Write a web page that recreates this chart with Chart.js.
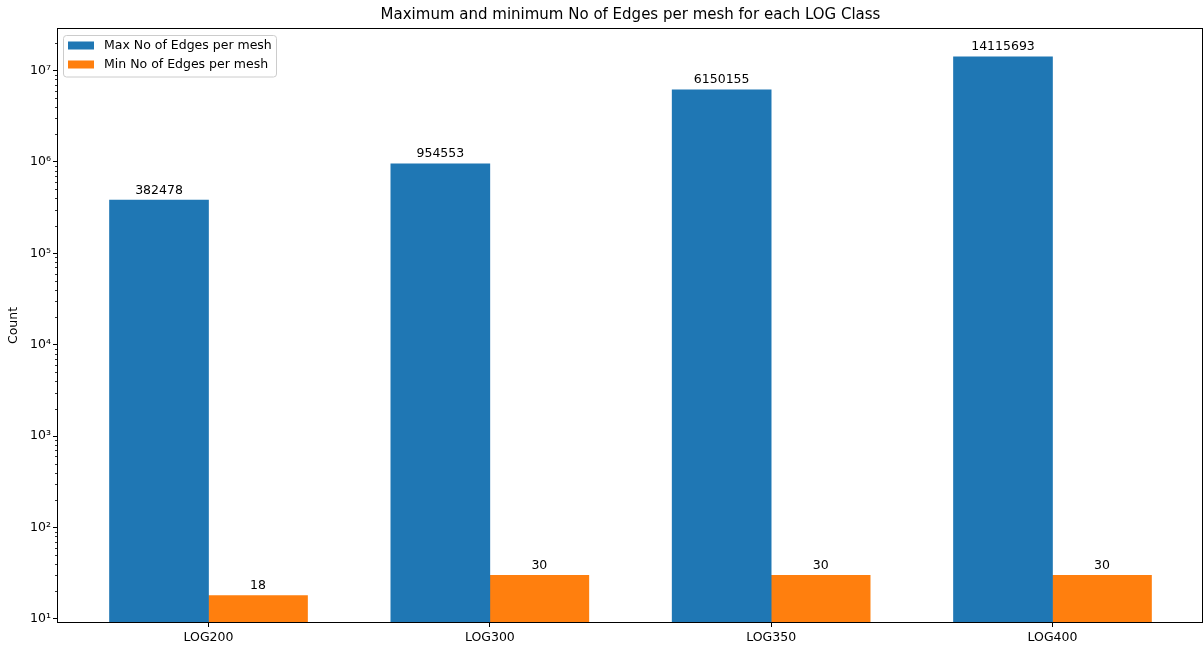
<!DOCTYPE html>
<html>
<head>
<meta charset="utf-8">
<title>Max and min No of Edges per mesh</title>
<script src="https://cdn.jsdelivr.net/npm/chart.js@4.4.1/dist/chart.umd.min.js"></script>
<style>
  html, body { margin: 0; padding: 0; background: #fff; }
  #wrap { width: 1204px; height: 645px; }
</style>
</head>
<body>
<div id="wrap"><canvas id="chart" width="1204" height="645"></canvas></div>
<script>
// data
const categories = ['LOG200', 'LOG300', 'LOG350', 'LOG400'];
const maxEdges = [382478, 954553, 6150155, 14115693];
const minEdges = [18, 30, 30, 30];
const seriesNames = ['Max No of Edges per mesh', 'Min No of Edges per mesh'];
const yTickValues = [1e1, 1e2, 1e3, 1e4, 1e5, 1e6, 1e7];
const yTickLabels = ['10¹', '10²', '10³', '10⁴', '10⁵', '10⁶', '10⁷'];

const blue = '#1f77b4';
const orange = '#ff7f0e';
const FONT = 'DejaVu Sans';

Chart.defaults.font.family = FONT;
Chart.defaults.font.size = 12.5;
Chart.defaults.color = '#000';

// frame, minor log ticks, bar labels and legend box (matplotlib look)
const decorations = {
    id: 'decorations',
    afterDatasetsDraw(chart) {
        const ctx = chart.ctx;
        const area = chart.chartArea;
        const y = chart.scales.y;

        ctx.save();
        // value labels above bars
        ctx.font = '12.5px ' + FONT;
        ctx.fillStyle = '#000';
        ctx.textAlign = 'center';
        ctx.textBaseline = 'alphabetic';
        chart.data.datasets.forEach((ds, di) => {
            const meta = chart.getDatasetMeta(di);
            meta.data.forEach((el, i) => {
                ctx.fillText(String(ds.data[i].y), el.x, el.y - 6.5);
            });
        });

        // minor ticks on log axis
        ctx.strokeStyle = '#000';
        ctx.lineWidth = 0.8;
        ctx.beginPath();
        for (let n = 0; n <= 8; n++) {
            for (let k = 2; k <= 9; k++) {
                const v = k * Math.pow(10, n);
                if (v < y.min || v > y.max) continue;
                const py = Math.round(y.getPixelForValue(v)) + 0.5;
                ctx.moveTo(area.left - 3, py);
                ctx.lineTo(area.left, py);
            }
        }
        ctx.stroke();

        // axes frame
        ctx.lineWidth = 1;
        ctx.strokeRect(Math.round(area.left) - 0.5, Math.round(area.top) - 0.5,
            Math.round(area.right - area.left), Math.round(area.bottom - area.top) + 1);

        // legend
        const lx = 63.5, ly = 35.5, lw = 213, lh = 41.5;
        ctx.beginPath();
        ctx.roundRect(lx, ly, lw, lh, 3);
        ctx.fillStyle = 'rgba(255,255,255,0.8)';
        ctx.fill();
        ctx.strokeStyle = '#cccccc';
        ctx.lineWidth = 1;
        ctx.stroke();

        const colors = [blue, orange];
        const rows = [41.5, 60.5];
        ctx.textAlign = 'left';
        ctx.textBaseline = 'middle';
        seriesNames.forEach((name, i) => {
            ctx.fillStyle = colors[i];
            ctx.fillRect(68, rows[i], 26, 8);
            ctx.fillStyle = '#000';
            ctx.fillText(name, 104, rows[i] + 4.5);
        });
        ctx.restore();
    }
};

new Chart(document.getElementById('chart'), {
    type: 'bar',
    data: {
        datasets: [
            {
                label: seriesNames[0],
                data: maxEdges.map((v, i) => ({ x: i, y: v })),
                backgroundColor: blue,
                barThickness: 99,
                borderWidth: 0
            },
            {
                label: seriesNames[1],
                data: minEdges.map((v, i) => ({ x: i, y: v })),
                backgroundColor: orange,
                barThickness: 99,
                borderWidth: 0
            }
        ]
    },
    options: {
        responsive: false,
        animation: false,
        layout: { padding: { left: 0, right: 1, top: 0, bottom: 0 } },
        plugins: {
            legend: { display: false },
            tooltip: { enabled: false },
            title: {
                display: true,
                fullSize: false,
                text: 'Maximum and minimum No of Edges per mesh for each LOG Class',
                font: { size: 15, weight: 'normal' },
                color: '#000',
                padding: { top: 6, bottom: 5 }
            }
        },
        scales: {
            x: {
                type: 'linear',
                min: -0.535,
                max: 3.535,
                offset: false,
                afterBuildTicks: s => { s.ticks = categories.map((c, i) => ({ value: i })); },
                afterFit: s => { s.height = 23; },
                ticks: {
                    autoSkip: false,
                    maxRotation: 0,
                    padding: 3,
                    callback: v => categories[v]
                },
                grid: {
                    offset: false,
                    drawOnChartArea: false,
                    drawTicks: true,
                    tickLength: 5,
                    tickColor: '#000',
                    tickWidth: 1
                },
                border: { display: false }
            },
            y: {
                type: 'logarithmic',
                min: 9.27,
                max: 2.84e7,
                afterBuildTicks: s => { s.ticks = yTickValues.map(v => ({ value: v })); },
                afterFit: s => { s.width = 58; },
                ticks: {
                    autoSkip: false,
                    padding: 2,
                    callback: v => {
                        const i = yTickValues.indexOf(v);
                        return i >= 0 ? yTickLabels[i] : '';
                    }
                },
                grid: {
                    drawOnChartArea: false,
                    drawTicks: true,
                    tickLength: 5,
                    tickColor: '#000',
                    tickWidth: 1
                },
                border: { display: false },
                title: {
                    display: true,
                    text: 'Count',
                    font: { size: 12.5 },
                    padding: { top: 6, bottom: 0 }
                }
            }
        }
    },
    plugins: [decorations]
});
</script>
</body>
</html>
